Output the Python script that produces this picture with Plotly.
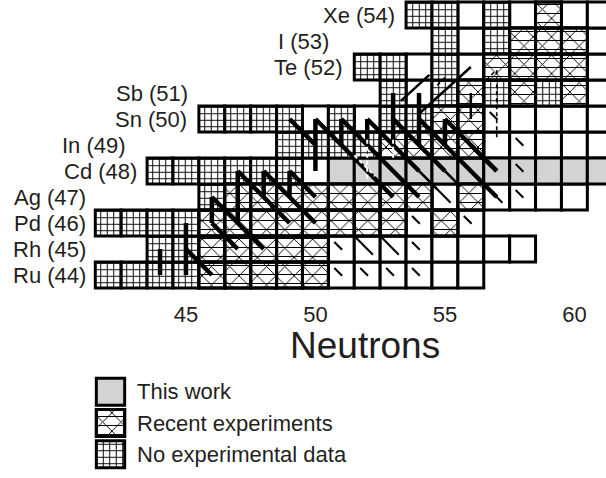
import plotly.graph_objects as go

# ---------------- data ----------------
elements = ["Ru", "Rh", "Pd", "Ag", "Cd", "In", "Sn", "Sb", "Te", "I", "Xe"]
protons = [44, 45, 46, 47, 48, 49, 50, 51, 52, 53, 54]
first_n = [42, 44, 42, 46, 44, 49, 46, 53, 52, 55, 54]
# g = no experimental data, x = recent experiments, s = this work, o = known
cells = [
    "ggggxxxxxoooooo",
    "ggxxxxxoooooooo",
    "ggggxxxxxxxxoxo",
    "gxxxxxxxxoxoooo",
    "ggggggo" + "s" * 11,
    "ggggxxxxooooo",
    "ggggogoggxxooooo",
    "gogxgxgxo",
    "ggogoxxxxo",
    "gogxxxo",
    "ggogoxoo",
]
label_right_n = [41.2, 41.2, 41.2, 41.2, 43.2, 42.75, 45.1, 45.15, 51.1, 50.6, 53.15]
neutron_ticks = [45, 50, 55, 60]

# reaction flow segments (N0, Z0, N1, Z1)
flow_thick = [
    (44, 44, 44, 45), (45, 44, 45, 46), (45, 45, 46, 44),
    (46, 46, 46, 47), (46, 46, 47, 45), (46, 47, 48, 45),
    (47, 46, 47, 48), (47, 48, 49, 46), (48, 47, 48, 48), (48, 48, 50, 46),
    (49, 47, 49, 48), (49, 48, 50, 47), (49, 50, 50, 49),
    (50, 48, 50, 50), (50, 50, 53, 47),
    (51, 49, 51, 50), (51, 50, 54, 47), (52, 49, 52, 50), (52, 50, 54, 48),
    (53, 49, 53, 51), (53, 50, 55, 48), (54, 49, 54, 51), (54, 50, 57, 47),
    (55, 49, 55, 50), (55, 50, 57, 48), (56, 49, 57, 48),
]
flow_medium = [
    (53.3, 50.7, 54.4, 51.7), (54.0, 50.2, 56.0, 52.0), (56, 50, 56, 51),
    (54, 48, 54.7, 47.3), (55, 48, 55.6, 47.4),
]
flow_dashed = [(57, 49.3, 57, 52.0), (54.7, 51.3, 55.0, 51.6), (56.6, 51.5, 56.9, 51.8)]
flow_white = [(52, 49.2, 52, 47.7), (53, 49.2, 53, 48.5), (51.5, 48.6, 52.3, 47.8)]
# single beta-decay marks: (N, Z, long?)
flow_ticks = [
    (51, 44, 0), (52, 44, 0), (53, 44, 0), (54, 44, 0),
    (51, 45, 0), (52, 45, 1), (53, 45, 1), (54, 45, 0),
    (54, 46, 0), (56, 46, 0), (55, 47, 1), (57, 47, 1), (58, 47, 0),
    (58, 48, 0), (58, 49, 0), (57, 50, 0),
]

legend_labels = ["This work", "Recent experiments", "No experimental data"]
legend_kinds = ["s", "x", "g"]

# ---------------- styles ----------------
FONT = "Liberation Sans, Arial, Helvetica, sans-serif"
GRAY = "#d3d3d5"
BORDER = dict(color="black", width=3)

def kind_style(kind):
    if kind == "s":
        return dict(color=GRAY, line=BORDER)
    if kind == "g":
        return dict(color="white", line=BORDER,
                    pattern=dict(shape="+", size=6.5, solidity=0.28,
                                 fgcolor="black", bgcolor="white", fillmode="replace"))
    if kind == "x":
        return dict(color="white", line=BORDER,
                    pattern=dict(shape="x", size=13, solidity=0.14,
                                 fgcolor="black", bgcolor="white", fillmode="replace"))
    return dict(color="white", line=BORDER)

HLINES = dict(color="rgba(0,0,0,0)", line=BORDER,
              pattern=dict(shape="-", size=9, solidity=0.11, fgcolor="black",
                           bgcolor="rgba(0,0,0,0)", fillmode="replace"))

fig = go.Figure()

groups = {"o": ([], []), "s": ([], []), "g": ([], []), "x": ([], [])}
for z, n0, row in zip(protons, first_n, cells):
    for i, k in enumerate(row):
        groups[k][0].append(n0 + i)
        groups[k][1].append(z - 0.5)

for k in ["o", "s", "g", "x"]:
    xs, bases = groups[k]
    fig.add_trace(go.Bar(x=xs, y=[1] * len(xs), base=bases, width=1,
                         marker=kind_style(k), showlegend=False,
                         hoverinfo="skip", xaxis="x", yaxis="y"))
    if k == "x":
        fig.add_trace(go.Bar(x=xs, y=[1] * len(xs), base=bases, width=1,
                             marker=HLINES, showlegend=False, hoverinfo="skip",
                             xaxis="x", yaxis="y"))

def seg_xy(segs):
    xs, ys = [], []
    for n0, z0, n1, z1 in segs:
        xs += [n0, n1, None]
        ys += [z0, z1, None]
    return xs, ys

def add_lines(segs, **line):
    xs, ys = seg_xy(segs)
    fig.add_trace(go.Scatter(x=xs, y=ys, mode="lines", line=line,
                             showlegend=False, hoverinfo="skip"))

add_lines(flow_thick, color="black", width=4.5)
add_lines(flow_medium, color="black", width=2.5)
add_lines(flow_dashed, color="black", width=1.6, dash="4px,3px")
add_lines(flow_white, color="white", width=2, dash="4px,3px")
tick_segs = []
for n, z, lng in flow_ticks:
    if lng:
        tick_segs.append((n - 0.45, z + 0.45, n + 0.22, z - 0.22))
    else:
        tick_segs.append((n - 0.27, z + 0.27, n + 0.03, z - 0.03))
add_lines(tick_segs, color="black", width=2)

# legend squares
for i, k in enumerate(legend_kinds):
    fig.add_trace(go.Bar(x=[0.5], y=[0.86], base=[i - 0.43], width=1,
                         marker=kind_style(k), showlegend=False, hoverinfo="skip",
                         xaxis="x2", yaxis="y2"))
    if k == "x":
        fig.add_trace(go.Bar(x=[0.5], y=[0.86], base=[i - 0.43], width=1,
                             marker=HLINES, showlegend=False, hoverinfo="skip",
                             xaxis="x2", yaxis="y2"))

annotations = []
for name, z, xr in zip(elements, protons, label_right_n):
    annotations.append(dict(x=xr, y=z, xref="x", yref="y", text=f"{name} ({z})",
                            showarrow=False, xanchor="right", yanchor="middle",
                            font=dict(family=FONT, size=22, color="#231f20")))
for i, t in enumerate(legend_labels):
    annotations.append(dict(x=0.222, y=i, xref="paper", yref="y2", text=t,
                            showarrow=False, xanchor="left", yanchor="middle",
                            font=dict(family=FONT, size=22, color="#231f20")))
annotations.append(dict(x=51.9, y=1 - 345 / 478, xref="x", yref="paper", text="Neutrons",
                        showarrow=False, xanchor="center", yanchor="middle",
                        font=dict(family=FONT, size=37, color="#231f20")))

fig.update_layout(
    width=606, height=478, margin=dict(l=0, r=0, t=0, b=0),
    paper_bgcolor="white", plot_bgcolor="rgba(0,0,0,0)",
    barmode="overlay", bargap=0, showlegend=False,
    annotations=annotations,
    xaxis=dict(domain=[0, 1], range=[37.82, 61.22], tickvals=neutron_ticks,
               showgrid=False, zeroline=False, showline=False,
               ticks="outside", ticklen=3, tickcolor="rgba(0,0,0,0)",
               tickfont=dict(family=FONT, size=22, color="#231f20"), fixedrange=True),
    yaxis=dict(domain=[1 - 292 / 478, 1], range=[43.346, 54.577], visible=False,
               fixedrange=True),
    xaxis2=dict(domain=[93.5 / 606, 127.5 / 606], range=[-0.1, 1.1], visible=False,
                anchor="y2"),
    yaxis2=dict(domain=[1 - 470 / 478, 1 - 376 / 478], range=[2.5, -0.5], visible=False,
                anchor="x2"),
)

fig.write_html("out.html", config={"displayModeBar": False, "staticPlot": True},
               post_script="document.body.style.margin='0px';")
